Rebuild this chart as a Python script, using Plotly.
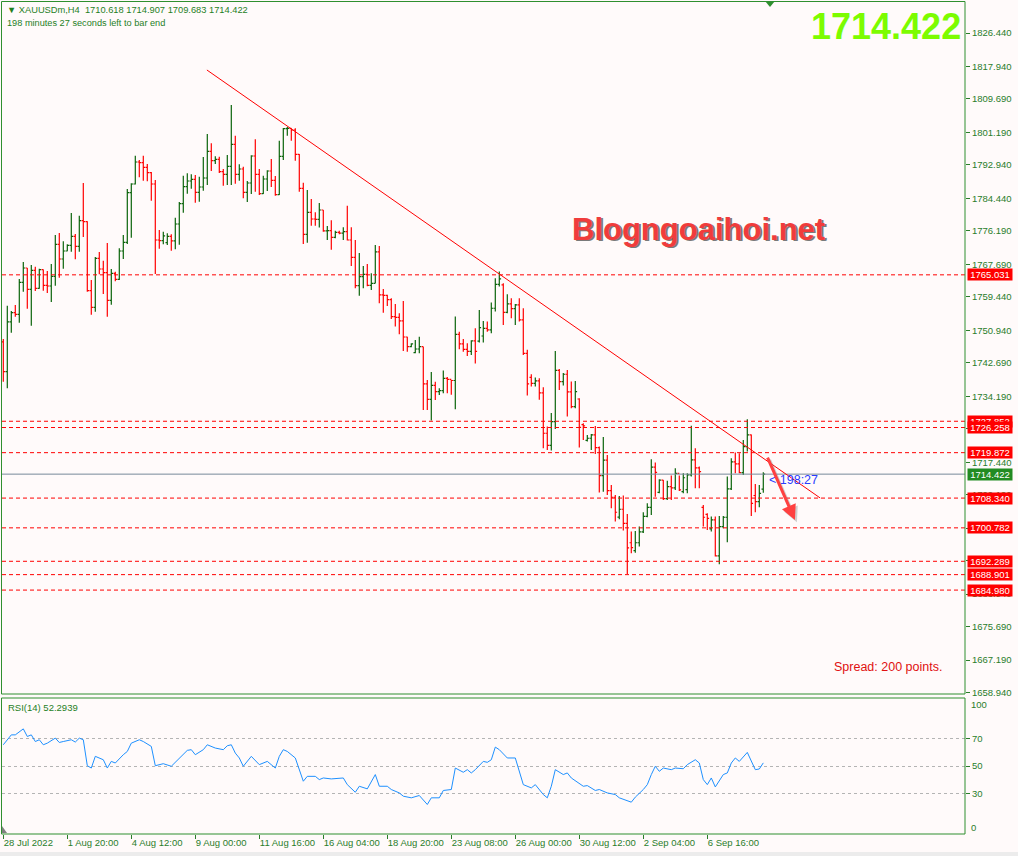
import plotly.graph_objects as go

# ---------------- data ----------------
opens = [1748.00, 1740.45, 1753.10, 1755.43, 1755.00, 1763.13, 1766.77, 1761.35, 1766.18, 1761.61,
1766.35, 1762.37, 1762.20, 1764.65, 1772.78, 1769.05, 1771.08, 1772.52, 1774.81, 1772.27,
1778.79, 1778.53, 1761.00, 1756.78, 1769.22, 1766.51, 1765.58, 1758.56, 1765.41, 1763.89,
1771.08, 1773.29, 1785.90, 1788.10, 1793.68, 1793.51, 1792.33, 1790.98, 1788.10, 1773.88,
1773.71, 1773.20, 1774.81, 1773.63, 1777.94, 1783.11, 1787.42, 1788.86, 1789.29, 1785.99,
1787.34, 1789.62, 1796.40, 1794.03, 1794.37, 1791.23, 1790.56, 1792.59, 1798.17, 1790.56,
1791.91, 1785.99, 1788.35, 1795.21, 1790.56, 1785.65, 1789.37, 1791.40, 1789.03, 1785.39,
1795.13, 1802.15, 1802.24, 1801.81, 1795.63, 1787.00, 1775.32, 1780.91, 1779.21, 1779.13,
1781.50, 1776.17, 1776.25, 1774.56, 1775.83, 1775.60, 1776.00, 1773.88, 1769.48, 1762.29,
1764.57, 1765.17, 1762.37, 1762.88, 1770.84, 1759.92, 1759.83, 1758.73, 1754.42, 1754.25,
1753.32, 1749.25, 1746.80, 1745.30, 1746.20, 1746.80, 1737.32, 1733.43, 1736.98, 1735.37,
1735.63, 1738.76, 1738.51, 1738.20, 1749.93, 1747.48, 1746.12, 1745.62, 1748.24, 1748.20,
1749.50, 1751.46, 1751.04, 1756.54, 1762.63, 1762.50, 1755.52, 1757.64, 1756.45, 1757.38,
1753.57, 1745.11, 1739.00, 1737.49, 1738.08, 1735.04, 1724.80, 1721.75, 1727.76, 1740.79,
1737.92, 1739.78, 1735.29, 1731.57, 1733.50, 1727.00, 1723.00, 1723.53, 1724.37, 1721.16,
1714.05, 1718.00, 1710.24, 1708.55, 1703.50, 1705.50, 1701.94, 1697.00, 1695.00, 1697.00,
1699.74, 1703.72, 1706.00, 1716.20, 1709.80, 1712.90, 1708.21, 1711.25, 1710.91, 1714.64,
1710.00, 1710.50, 1714.22, 1718.02, 1716.00, 1706.00, 1704.20, 1700.50, 1702.80, 1693.65,
1701.10, 1703.47, 1710.66, 1717.52, 1717.01, 1714.81, 1721.41, 1724.37, 1709.00, 1707.44,
1710.618]

highs = [1748.74, 1757.20, 1755.85, 1757.37, 1763.97, 1768.29, 1766.77, 1767.53, 1767.11, 1766.60,
1766.40, 1766.00, 1767.78, 1775.15, 1775.66, 1773.54, 1772.78, 1780.73, 1775.40, 1780.06,
1788.35, 1778.62, 1763.72, 1769.56, 1770.83, 1768.63, 1773.12, 1766.51, 1765.84, 1771.76,
1775.15, 1786.83, 1788.27, 1795.29, 1794.19, 1795.29, 1793.18, 1791.14, 1789.11, 1776.42,
1776.00, 1775.57, 1775.32, 1779.55, 1783.53, 1790.22, 1790.81, 1790.56, 1790.39, 1789.96,
1794.96, 1800.80, 1798.43, 1795.13, 1795.04, 1791.91, 1795.47, 1808.16, 1800.37, 1793.09,
1792.50, 1788.86, 1795.38, 1799.44, 1791.91, 1790.22, 1791.57, 1794.45, 1790.13, 1799.10,
1802.32, 1802.57, 1802.24, 1802.24, 1795.72, 1788.44, 1786.58, 1784.29, 1780.91, 1783.28,
1781.50, 1777.44, 1778.88, 1776.25, 1776.25, 1777.10, 1782.60, 1777.10, 1773.88, 1770.58,
1767.28, 1767.79, 1765.42, 1772.62, 1772.36, 1761.44, 1760.00, 1759.07, 1757.63, 1755.26,
1758.40, 1749.34, 1747.65, 1748.49, 1749.34, 1746.80, 1738.34, 1740.37, 1737.91, 1736.22,
1740.71, 1739.10, 1738.34, 1754.42, 1750.61, 1748.75, 1747.65, 1748.41, 1751.46, 1756.11,
1753.32, 1753.15, 1757.98, 1764.15, 1765.85, 1762.88, 1760.09, 1759.08, 1757.64, 1759.08,
1756.54, 1746.00, 1739.78, 1738.93, 1738.76, 1736.48, 1726.49, 1729.96, 1745.70, 1741.13,
1740.12, 1740.88, 1737.92, 1738.09, 1733.68, 1727.34, 1724.37, 1724.63, 1726.66, 1721.41,
1723.87, 1719.30, 1711.68, 1709.14, 1708.89, 1708.97, 1704.31, 1699.83, 1700.00, 1701.10,
1704.74, 1707.02, 1718.19, 1717.35, 1713.11, 1712.94, 1712.77, 1714.05, 1715.91, 1714.05,
1714.64, 1714.64, 1726.74, 1720.99, 1716.33, 1706.60, 1704.48, 1703.64, 1703.64, 1703.81,
1703.81, 1713.79, 1718.45, 1719.89, 1719.72, 1723.10, 1728.35, 1724.50, 1711.93, 1711.68,
1714.907]

lows = [1737.91, 1736.20, 1750.35, 1754.41, 1752.89, 1760.76, 1756.44, 1752.13, 1760.93, 1761.52,
1761.01, 1760.42, 1758.13, 1762.28, 1764.31, 1766.60, 1771.00, 1770.92, 1768.97, 1770.92,
1774.64, 1760.76, 1754.92, 1755.68, 1765.16, 1760.17, 1754.41, 1757.46, 1763.38, 1763.72,
1769.05, 1772.86, 1774.47, 1788.00, 1789.79, 1788.94, 1788.77, 1783.87, 1765.24, 1771.68,
1772.78, 1772.61, 1771.17, 1771.51, 1772.70, 1780.82, 1785.65, 1786.92, 1783.36, 1783.62,
1786.41, 1787.85, 1791.40, 1793.18, 1790.89, 1787.68, 1787.85, 1787.85, 1788.19, 1788.95,
1784.46, 1783.53, 1785.56, 1786.15, 1785.31, 1785.56, 1786.32, 1787.34, 1785.14, 1785.31,
1794.20, 1800.37, 1799.10, 1794.03, 1786.15, 1772.87, 1773.21, 1777.52, 1777.52, 1777.02,
1776.00, 1773.88, 1771.43, 1774.30, 1775.32, 1773.88, 1773.72, 1767.28, 1761.61, 1759.75,
1761.61, 1762.12, 1761.19, 1762.88, 1757.80, 1755.43, 1757.13, 1753.83, 1751.88, 1749.93,
1745.70, 1745.53, 1746.63, 1745.11, 1745.11, 1730.72, 1730.72, 1728.01, 1733.26, 1734.53,
1734.95, 1734.95, 1734.61, 1730.89, 1746.12, 1745.53, 1744.43, 1744.69, 1742.49, 1747.82,
1747.82, 1750.61, 1750.19, 1755.69, 1762.04, 1752.30, 1755.30, 1754.00, 1752.30, 1753.15,
1744.69, 1734.36, 1736.65, 1736.65, 1733.34, 1720.99, 1720.57, 1720.40, 1725.90, 1735.80,
1736.90, 1729.03, 1731.15, 1731.15, 1721.16, 1723.10, 1722.68, 1720.57, 1719.55, 1709.73,
1709.98, 1709.14, 1705.75, 1702.37, 1702.96, 1700.08, 1689.08, 1694.32, 1694.49, 1696.02,
1699.50, 1703.50, 1704.06, 1708.71, 1709.56, 1707.87, 1707.87, 1707.87, 1710.41, 1710.15,
1709.56, 1709.56, 1713.79, 1710.83, 1710.83, 1701.10, 1700.25, 1699.83, 1693.48, 1691.53,
1700.67, 1697.12, 1710.41, 1714.64, 1714.64, 1714.22, 1720.14, 1703.81, 1704.74, 1706.00,
1709.683]

closes = [1740.45, 1753.10, 1755.43, 1755.00, 1763.13, 1766.77, 1761.35, 1766.18, 1761.61, 1766.35,
1762.37, 1762.20, 1764.65, 1772.78, 1769.05, 1771.08, 1772.52, 1774.81, 1772.27, 1778.79,
1778.53, 1761.00, 1756.78, 1769.22, 1766.51, 1765.58, 1758.56, 1765.41, 1763.89, 1771.08,
1773.29, 1785.90, 1788.10, 1793.68, 1793.51, 1792.33, 1790.98, 1788.10, 1773.88, 1773.71,
1774.90, 1774.81, 1773.63, 1777.94, 1783.11, 1787.42, 1788.86, 1789.29, 1785.99, 1787.34,
1789.62, 1796.40, 1794.03, 1794.37, 1791.23, 1790.56, 1792.59, 1798.17, 1790.56, 1791.91,
1785.99, 1788.35, 1795.21, 1790.56, 1785.65, 1789.37, 1791.40, 1789.03, 1785.39, 1795.13,
1802.15, 1802.24, 1801.81, 1795.63, 1787.00, 1775.32, 1780.91, 1779.21, 1779.13, 1781.50,
1776.17, 1776.25, 1774.56, 1775.83, 1775.60, 1776.00, 1773.88, 1769.48, 1762.29, 1764.57,
1765.17, 1762.37, 1762.88, 1770.84, 1759.92, 1759.83, 1758.73, 1754.42, 1754.25, 1753.32,
1749.25, 1746.80, 1747.48, 1746.20, 1746.80, 1737.32, 1733.43, 1736.98, 1735.37, 1735.63,
1738.76, 1738.51, 1738.20, 1749.93, 1747.48, 1746.12, 1745.62, 1748.24, 1745.62, 1751.63,
1751.46, 1751.04, 1756.54, 1762.63, 1764.00, 1755.52, 1757.64, 1756.45, 1757.38, 1753.57,
1745.11, 1737.32, 1737.49, 1738.08, 1735.04, 1724.80, 1721.75, 1727.76, 1740.79, 1737.92,
1739.78, 1735.29, 1731.57, 1735.38, 1726.32, 1726.66, 1723.53, 1724.37, 1721.16, 1714.05,
1718.00, 1710.24, 1708.55, 1704.74, 1705.50, 1701.94, 1695.68, 1695.76, 1697.00, 1699.74,
1703.72, 1706.00, 1716.20, 1714.89, 1712.90, 1708.21, 1711.25, 1710.91, 1714.64, 1710.41,
1713.50, 1714.22, 1718.02, 1716.00, 1715.06, 1703.47, 1703.21, 1702.80, 1693.65, 1701.10,
1703.47, 1710.66, 1717.52, 1717.01, 1714.81, 1721.41, 1724.37, 1707.02, 1707.44, 1709.56,
1714.422]

bar_index = list(range(len(closes)))

rsi_index = [0, 2, 3, 4, 5, 6, 7, 8, 9, 10, 11, 13, 14, 15, 17, 18, 19, 20, 21, 22, 23, 25, 26, 27, 28,
             30, 31, 32, 34, 35, 37, 38, 40, 42, 44, 46, 47, 48, 50, 51, 53, 55, 56, 57, 58, 59, 60,
             62, 64, 66, 68, 69, 70, 71, 73, 74, 75, 76, 78, 79, 80, 82, 85, 86, 88, 89, 91, 93, 94,
             96, 97, 99, 100, 102, 104, 106, 107, 109, 110, 112, 113, 115, 116, 117, 118, 120, 121,
             122, 123, 124, 126, 128, 130, 132, 133, 135, 136, 137, 138, 140, 141, 142, 144, 145,
             146, 148, 149, 151, 153, 154, 157, 158, 160, 161, 162, 163, 164, 165, 167, 168, 170,
             171, 173, 174, 175, 176, 177, 178, 180, 181, 182, 183, 184, 186, 188, 189, 190]
rsi_values = [65.6, 72.9, 72.9, 75.4, 77.3, 71.7, 72.9, 68.0, 69.3, 65.6, 66.8, 70.5, 67.3, 68.0, 69.3,
              67.6, 70.5, 69.3, 50.2, 48.5, 57.1, 54.6, 48.5, 53.4, 52.2, 58.3, 60.7, 66.8, 69.3, 68.0,
              64.4, 50.2, 51.7, 49.8, 55.9, 61.5, 62.0, 58.3, 62.0, 65.6, 63.2, 62.0, 64.9, 65.6, 59.5,
              55.9, 49.8, 57.1, 51.0, 53.4, 48.5, 57.1, 62.0, 60.7, 55.9, 47.3, 38.8, 42.4, 42.4, 40.0,
              41.2, 40.5, 41.2, 36.3, 30.7, 35.1, 33.2, 43.7, 35.1, 35.1, 32.7, 30.2, 27.8, 26.6, 28.3,
              21.7, 26.6, 26.6, 32.0, 32.7, 48.5, 45.4, 47.3, 44.9, 47.3, 53.4, 52.7, 54.6, 63.9, 62.0,
              55.9, 55.9, 36.3, 33.9, 36.3, 29.0, 26.6, 35.1, 47.3, 43.7, 44.9, 41.2, 37.1, 35.1, 35.6,
              32.0, 32.7, 30.2, 29.0, 26.6, 23.4, 27.1, 32.7, 36.3, 43.7, 49.8, 46.1, 48.5, 47.3, 48.5,
              48.0, 51.0, 54.6, 52.2, 40.0, 36.3, 41.2, 34.6, 43.7, 44.9, 52.2, 55.9, 53.4, 60.0, 47.3,
              47.8, 52.29]

date_tick_index = [0, 16, 32, 48, 64, 80, 96, 112, 128, 144, 160, 176]
date_tick_labels = ["28 Jul 2022", "1 Aug 20:00", "4 Aug 12:00", "9 Aug 00:00", "11 Aug 16:00",
                    "16 Aug 04:00", "18 Aug 20:00", "23 Aug 08:00", "26 Aug 00:00", "30 Aug 12:00",
                    "2 Sep 04:00", "6 Sep 16:00"]

price_ticks = [1826.440, 1817.940, 1809.690, 1801.190, 1792.940, 1784.440, 1776.190, 1767.690,
               1759.440, 1750.940, 1742.690, 1734.190, 1725.940, 1717.440, 1709.190, 1700.690,
               1692.440, 1683.940, 1675.690, 1667.190, 1658.940]

level_prices = [1765.031, 1727.852, 1726.258, 1719.872, 1708.340, 1700.782, 1692.289, 1688.901, 1684.980]
bid_price = 1714.422
trend_start = (50.9, 1817.05)
trend_end = (204.2, 1708.38)
arrow_start = (190.9, 1719.0)
arrow_end = (197.9, 1702.8)

# ---------------- layout helpers ----------------
W, H = 1018, 856
def px(x):
    return x / W
def py(y):
    return 1 - y / H

BG = "#fffafa"
AXC = "#2a7d2a"
FONT = "Liberation Sans, Arial, sans-serif"
x_left, x_right = 2, 965
main_top, main_bot = 3, 694
rsi_top, rsi_bot = 698, 834

fig = go.Figure()

fig.add_trace(go.Ohlc(
    x=bar_index, open=opens, high=highs, low=lows, close=closes,
    increasing=dict(line=dict(color="#0b640b", width=1.2)),
    decreasing=dict(line=dict(color="#ff0000", width=1.2)),
    tickwidth=0.45, hoverinfo="skip", xaxis="x", yaxis="y", showlegend=False))

fig.add_trace(go.Scatter(
    x=rsi_index, y=rsi_values, mode="lines",
    line=dict(color="#1e90ff", width=1), hoverinfo="skip",
    xaxis="x2", yaxis="y2", showlegend=False))

xr = [-0.325, 240.425]
fig.update_layout(
    width=W, height=H, margin=dict(l=0, r=0, t=0, b=0, autoexpand=False),
    paper_bgcolor=BG, plot_bgcolor=BG,
    font=dict(family=FONT, color=AXC, size=10),
    xaxis=dict(domain=[px(x_left), px(x_right)], range=xr, showticklabels=False,
               showgrid=False, zeroline=False, rangeslider=dict(visible=False),
               anchor="y", ticks="", automargin=False),
    yaxis=dict(domain=[py(main_bot), py(main_top)], range=[1658.59, 1834.06], side="right",
               anchor="x", tickvals=price_ticks, ticktext=[f"{v:.3f}" for v in price_ticks],
               ticks="outside", ticklen=4, tickcolor=AXC, showgrid=False, zeroline=False,
               automargin=False, tickfont=dict(size=9.5, color=AXC, family=FONT)),
    xaxis2=dict(domain=[px(x_left), px(x_right)], range=xr, anchor="y2",
                tickvals=date_tick_index, ticktext=date_tick_labels, ticks="outside",
                ticklen=4, tickcolor=AXC, showgrid=False, zeroline=False,
                ticklabelposition="outside right", tickangle=0, automargin=False,
                tickfont=dict(size=9.5, color=AXC, family=FONT)),
    yaxis2=dict(domain=[py(rsi_bot), py(rsi_top)], range=[0, 100], side="right", anchor="x2",
                tickvals=[30, 50, 70], ticks="outside", ticklen=4, tickcolor=AXC,
                showgrid=True, gridcolor="#b4b4b4", griddash="dot", gridwidth=1,
                zeroline=False, automargin=False,
                tickfont=dict(size=9.5, color=AXC, family=FONT)),
)

shapes = []
for lv in level_prices:
    shapes.append(dict(type="line", xref="x domain", yref="y", x0=0, x1=1, y0=lv, y1=lv,
                       line=dict(color="#ff0000", width=1, dash="4px,3px")))
shapes.append(dict(type="line", xref="x domain", yref="y", x0=0, x1=1, y0=bid_price, y1=bid_price,
                   line=dict(color="#778899", width=1)))
shapes.append(dict(type="line", xref="x", yref="y", x0=trend_start[0], y0=trend_start[1],
                   x1=trend_end[0], y1=trend_end[1], line=dict(color="#ff0000", width=1)))
for (t, b) in [(1.5, main_bot), (rsi_top, rsi_bot)]:
    shapes.append(dict(type="rect", xref="paper", yref="paper", x0=px(1.5), x1=px(x_right),
                       y0=py(b), y1=py(t), line=dict(color="#2f8f2f", width=1)))
shapes.append(dict(type="rect", xref="paper", yref="paper", x0=0, x1=1, y0=0, y1=py(852),
                   fillcolor="#ececec", line=dict(width=0)))
shapes.append(dict(type="path", xref="paper", yref="paper",
                   path=f"M {px(765)} {py(1)} L {px(775)} {py(1)} L {px(770)} {py(7)} Z",
                   fillcolor="#2f8f2f", line=dict(width=0)))
shapes.append(dict(type="path", xref="paper", yref="paper",
                   path=f"M {px(2)} {py(826)} L {px(2)} {py(833)} L {px(7)} {py(833)} Z",
                   fillcolor="#808080", line=dict(width=0)))
fig.update_layout(shapes=shapes)

ann = []
for lv in level_prices:
    ann.append(dict(xref="paper", yref="y", x=px(967), y=lv, xanchor="left", yanchor="middle",
                    text=f"{lv:.3f}", showarrow=False, bgcolor="#ff0000", width=44, height=11,
                    borderpad=0, font=dict(color="white", size=9.5, family=FONT)))
ann.append(dict(xref="paper", yref="y", x=px(967), y=bid_price, xanchor="left", yanchor="middle",
                text=f"{bid_price:.3f}", showarrow=False, bgcolor="#228b22", width=44, height=11,
                borderpad=0, font=dict(color="white", size=9.5, family=FONT)))
ann.append(dict(xref="paper", yref="paper", x=px(969), y=py(704), xanchor="left", yanchor="middle",
                text="100", showarrow=False, font=dict(size=9.5, color=AXC)))
ann.append(dict(xref="paper", yref="paper", x=px(969), y=py(827), xanchor="left", yanchor="middle",
                text="0", showarrow=False, font=dict(size=9.5, color=AXC)))
ann.append(dict(xref="paper", yref="paper", x=px(5), y=py(10), xanchor="left", yanchor="middle",
                text="▼ XAUUSDm,H4  1710.618 1714.907 1709.683 1714.422", showarrow=False,
                font=dict(size=9.3, color="#1f7f1f", family=FONT)))
ann.append(dict(xref="paper", yref="paper", x=px(5), y=py(23), xanchor="left", yanchor="middle",
                text="198 minutes 27 seconds left to bar end", showarrow=False,
                font=dict(size=9.2, color="#1f7f1f", family=FONT)))
ann.append(dict(xref="paper", yref="paper", x=px(6), y=py(707), xanchor="left", yanchor="middle",
                text="RSI(14) 52.2939", showarrow=False, font=dict(size=9.5, color="#1f7f1f")))
ann.append(dict(xref="paper", yref="paper", x=px(963), y=py(26), xanchor="right", yanchor="middle",
                text="<b>1714.422</b>", showarrow=False,
                font=dict(size=36, color="#7cfc00", family=FONT)))
ann.append(dict(xref="paper", yref="paper", x=px(700), y=py(231), xanchor="center", yanchor="middle",
                text="<b>Blogngoaihoi.net</b>", showarrow=False,
                font=dict(size=31, color="#7a7a7a", family=FONT)))
ann.append(dict(xref="paper", yref="paper", x=px(698), y=py(229), xanchor="center", yanchor="middle",
                text="<b>Blogngoaihoi.net</b>", showarrow=False,
                font=dict(size=31, color="#f03c3c", family=FONT)))
ann.append(dict(xref="paper", yref="paper", x=px(832), y=py(667), xanchor="left", yanchor="middle",
                text="Spread: 200 points.", showarrow=False,
                font=dict(size=12.5, color="#e01010", family=FONT)))
ann.append(dict(xref="paper", yref="paper", x=px(767), y=py(480), xanchor="left", yanchor="middle",
                text="< 198:27", showarrow=False,
                font=dict(size=12.5, color="#2a3cff", family=FONT)))
ann.append(dict(xref="x", yref="y", axref="x", ayref="y", x=arrow_end[0] + 0.5, y=arrow_end[1] - 0.6,
                ax=arrow_start[0] + 0.5, ay=arrow_start[1] - 0.6, showarrow=True, arrowhead=2,
                arrowsize=1, arrowwidth=3, arrowcolor="rgba(120,120,120,0.35)", text=""))
ann.append(dict(xref="x", yref="y", axref="x", ayref="y", x=arrow_end[0], y=arrow_end[1],
                ax=arrow_start[0], ay=arrow_start[1], showarrow=True, arrowhead=2,
                arrowsize=1, arrowwidth=3, arrowcolor="#ff4040", text=""))
fig.update_layout(annotations=ann)

fig.write_html("out.html", config={"displayModeBar": False},
               post_script="document.body.style.margin='0';document.body.style.padding='0';"
                           "document.body.style.overflow='hidden';")
